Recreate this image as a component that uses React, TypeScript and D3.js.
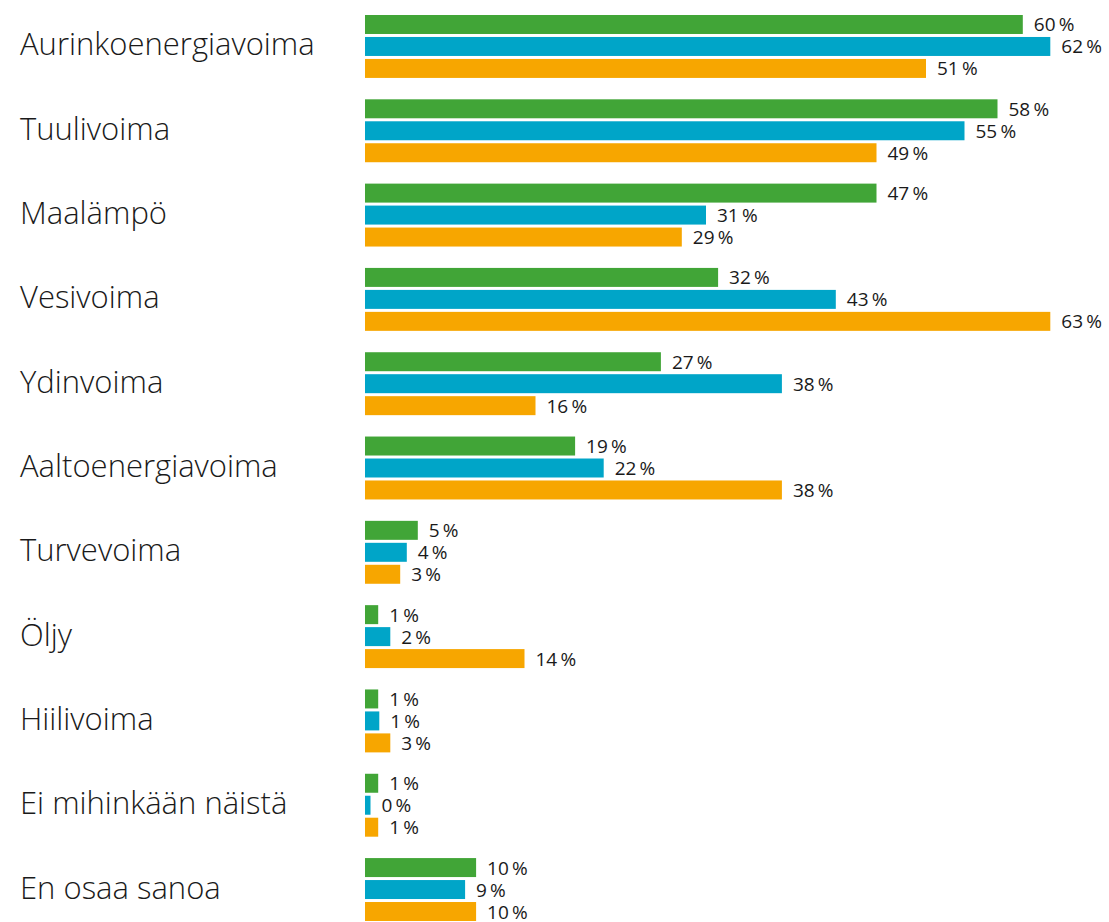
import React from "react";
import * as d3 from "d3";

const categories = [
  "Aurinkoenergiavoima",
  "Tuulivoima",
  "Maalämpö",
  "Vesivoima",
  "Ydinvoima",
  "Aaltoenergiavoima",
  "Turvevoima",
  "Öljy",
  "Hiilivoima",
  "Ei mihinkään näistä",
  "En osaa sanoa",
];

const seriesKeys = ["s1", "s2", "s3"];
const seriesColors = ["#41a537", "#00a5c8", "#f7a600"];

// bar lengths as drawn (percent)
const series1 = [59.8, 57.5, 46.5, 32.1, 26.9, 19.1, 4.8, 1.2, 1.2, 1.2, 10.1];
const series2 = [62.3, 54.5, 31.0, 42.8, 37.9, 21.7, 3.8, 2.3, 1.3, 0.5, 9.1];
const series3 = [51.0, 46.5, 28.8, 62.3, 15.5, 37.9, 3.2, 14.5, 2.3, 1.2, 10.1];

// printed value labels (percent)
const labels1 = [60, 58, 47, 32, 27, 19, 5, 1, 1, 1, 10];
const labels2 = [62, 55, 31, 43, 38, 22, 4, 2, 1, 0, 9];
const labels3 = [51, 49, 29, 63, 16, 38, 3, 14, 3, 1, 10];

const seriesValues = [series1, series2, series3];
const seriesLabels = [labels1, labels2, labels3];

export default function App() {
  const width = 1109;
  const height = 922;

  const y0 = d3
    .scaleBand<string>()
    .domain(categories)
    .range([15, 921])
    .paddingInner(0.2536)
    .paddingOuter(0);

  const y1 = d3
    .scaleBand<string>()
    .domain(seriesKeys)
    .range([0, y0.bandwidth()])
    .paddingInner(0.136)
    .paddingOuter(0);

  const x = d3.scaleLinear().domain([0, 65]).range([365, 365 + 65 * 11]);

  return (
    <svg
      width={width}
      height={height}
      style={{ position: "absolute", left: 0, top: 0, background: "#fff" }}
    >
      {categories.map((cat, i) => {
        const gy = y0(cat)!;
        const center = gy + y0.bandwidth() / 2;
        return (
          <g key={cat}>
            <text
              x={20}
              y={center + 9}
              fontFamily="'Open Sans', sans-serif"
              fontWeight={300}
              fontSize={31}
              fill="#1a1a1a"
            >
              {cat}
            </text>
            {seriesKeys.map((k, j) => {
              const by = gy + y1(k)!;
              const v = seriesValues[j][i];
              const bw = y1.bandwidth();
              return (
                <g key={k}>
                  <rect
                    x={x(0)}
                    y={by}
                    width={x(v) - x(0)}
                    height={bw}
                    fill={seriesColors[j]}
                  />
                  <text
                    x={x(v) + 11}
                    y={by + bw / 2 + 7}
                    fontFamily="'Open Sans', sans-serif"
                    fontWeight={400}
                    fontSize={19}
                    fill="#1a1a1a"
                  >
                    {seriesLabels[j][i] + "\u2009%"}
                  </text>
                </g>
              );
            })}
          </g>
        );
      })}
    </svg>
  );
}
